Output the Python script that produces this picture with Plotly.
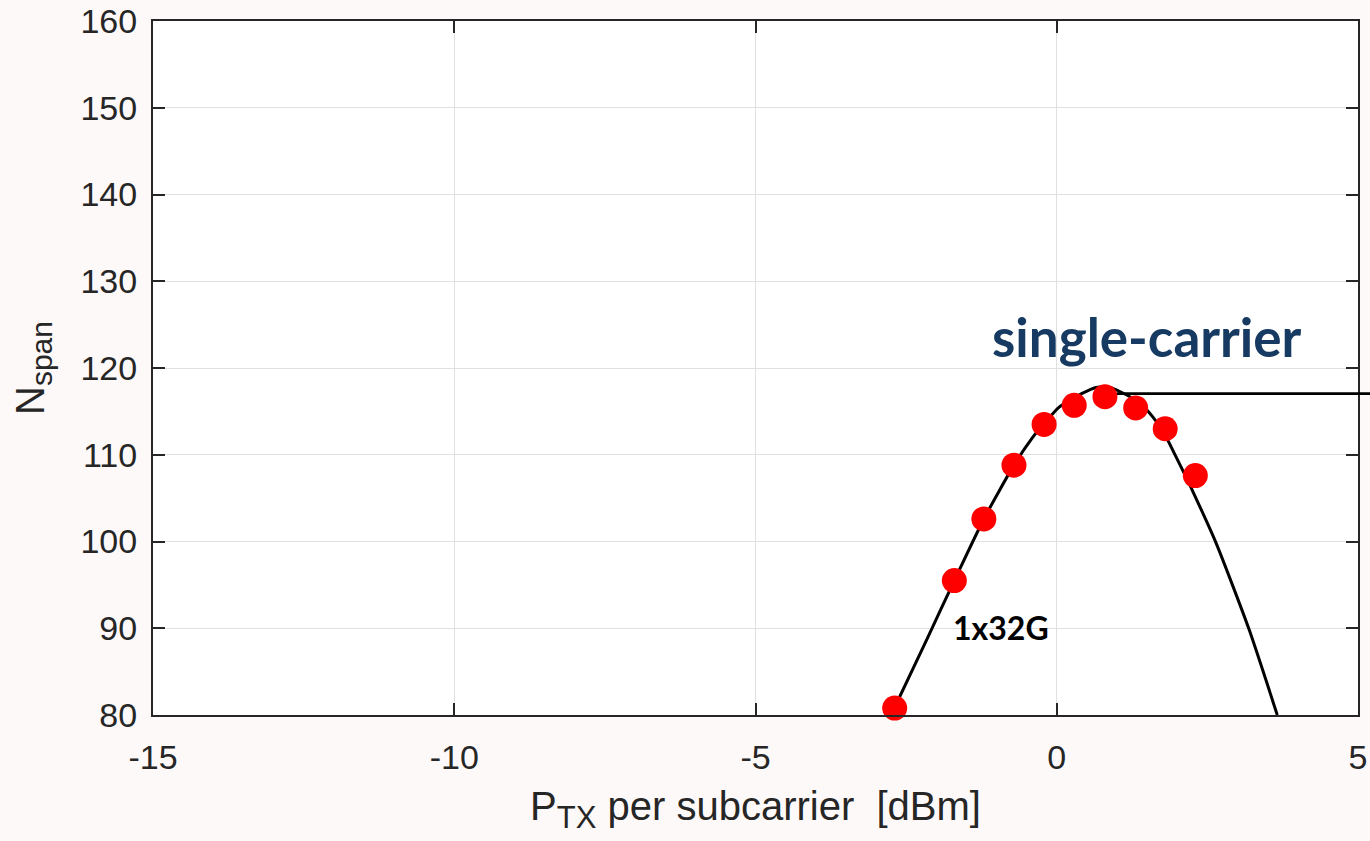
import plotly.graph_objects as go

# ---- data ----
meas_x = [-2.69, -1.70, -1.21, -0.71, -0.21, 0.29, 0.80, 1.31, 1.80, 2.30]
meas_y = [80.8, 95.5, 102.6, 108.8, 113.5, 115.7, 116.7, 115.4, 113.0, 107.6]

curve_x = [-2.75, -2.14, -1.70, -1.21, -0.71, -0.40, -0.21, 0.04, 0.28, 0.43,
           0.65, 0.80, 0.87, 1.03, 1.37, 1.59, 1.81, 1.97, 2.14, 2.25,
           2.64, 3.19, 3.66]
curve_y = [80.0, 88.95, 95.5, 102.6, 108.8, 112.0, 113.6, 115.5, 116.5, 117.1,
           117.75, 117.85, 117.8, 117.35, 116.0, 114.4, 112.1, 109.9, 107.5, 105.9,
           99.9, 89.9, 80.0]

peak_line_x = 1.0
peak_line_y = 117.05

x_ticks = [-15, -10, -5, 0, 5]
y_ticks = [80, 90, 100, 110, 120, 130, 140, 150, 160]
X_RANGE = [-15, 5]
Y_RANGE = [80, 160]

label_1 = "1x32G"
label_1_pos = (-0.93, 90.05)
label_2 = "single-carrier"
label_2_pos = (1.50, 123.6)


def px(v):
    return (v - X_RANGE[0]) / (X_RANGE[1] - X_RANGE[0])


def py(v):
    return (v - Y_RANGE[0]) / (Y_RANGE[1] - Y_RANGE[0])


AX = "#262626"
FONT = "Liberation Sans, Arial"
fig = go.Figure()
fig.add_trace(go.Scatter(x=curve_x, y=curve_y, mode="lines",
                         line=dict(color="black", width=3, shape="spline", smoothing=0.6),
                         showlegend=False, hoverinfo="skip"))
fig.add_trace(go.Scatter(x=meas_x, y=meas_y, mode="markers",
                         marker=dict(color="#ff0000", size=25, line=dict(width=0)),
                         showlegend=False, cliponaxis=False))

fig.add_shape(type="line", xref="paper", yref="paper",
              x0=px(peak_line_x), x1=1.02, y0=py(peak_line_y), y1=py(peak_line_y),
              line=dict(color="black", width=2.8))

fig.add_annotation(x=label_1_pos[0], y=label_1_pos[1], text="<b>%s</b>" % label_1,
                   showarrow=False, font=dict(family="Lato", size=32, color="black"))
fig.add_annotation(x=label_2_pos[0], y=label_2_pos[1], text="<b>%s</b>" % label_2,
                   showarrow=False, font=dict(family="Lato", size=53, color="#173a62"))

# y-axis title as a rotated annotation
fig.add_annotation(xref="paper", yref="paper", x=-0.0996, y=0.5,
                   xanchor="center", yanchor="middle", textangle=-90, showarrow=False,
                   text='N<sub><span style="font-size:30px">span</span></sub>',
                   font=dict(family=FONT, size=40, color=AX))

axis_common = dict(showline=True, linecolor=AX, linewidth=2, mirror="ticks",
                   ticks="inside", ticklen=12, tickwidth=2, tickcolor=AX,
                   showgrid=True, gridcolor="#e0e0e0", gridwidth=1,
                   zeroline=False,
                   tickfont=dict(family=FONT, size=34, color=AX))

fig.update_xaxes(range=X_RANGE, tickvals=x_ticks, ticktext=[str(t) for t in x_ticks],
                 ticklabelstandoff=11,
                 title=dict(text='P<sub><span style="font-size:31px">TX</span></sub> per subcarrier&nbsp;&nbsp;[dBm]',
                            font=dict(family=FONT, size=40, color=AX),
                            standoff=17),
                 **axis_common)
fig.update_yaxes(range=Y_RANGE, tickvals=y_ticks, ticktext=[str(t) for t in y_ticks],
                 ticklabelstandoff=7,
                 **axis_common)

fig.update_layout(width=1370, height=841,
                  margin=dict(l=153, r=12, t=21, b=126, autoexpand=False),
                  paper_bgcolor="#fdf9f8", plot_bgcolor="white")

fig.write_html("out.html")
